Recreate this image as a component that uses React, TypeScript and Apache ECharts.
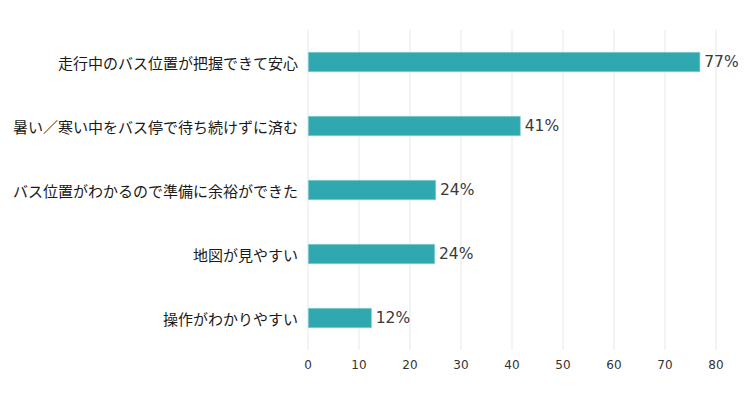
import React, { useEffect, useRef } from "react";
import * as echarts from "echarts";

const categories = [
  "走行中のバス位置が把握できて安心",
  "暑い／寒い中をバス停で待ち続けずに済む",
  "バス位置がわかるので準備に余裕ができた",
  "地図が見やすい",
  "操作がわかりやすい",
];
const values = [76.9, 41.7, 25.1, 24.9, 12.5];
const valueLabels = ["77%", "41%", "24%", "24%", "12%"];

const FONT = "'Noto Sans CJK JP', 'Noto Sans', sans-serif";
const NUM_FONT = "'DejaVu Sans', sans-serif";

export default function App() {
  const ref = useRef<HTMLDivElement>(null);
  useEffect(() => {
    document.body.style.margin = "0";
    if (!ref.current) return;
    const chart = echarts.init(ref.current, undefined, { renderer: "svg" });
    chart.setOption({
      animation: false,
      backgroundColor: "#ffffff",
      textStyle: { fontFamily: FONT },
      grid: { left: 308, right: 35, top: 30, bottom: 51, containLabel: false },
      xAxis: {
        type: "value",
        min: 0,
        max: 80,
        interval: 10,
        axisLine: { show: false },
        axisTick: { show: false },
        splitLine: { show: true, lineStyle: { color: "#f3f3f3", width: 2 } },
        axisLabel: { color: "#333", fontSize: 12, margin: 9, fontFamily: NUM_FONT },
      },
      yAxis: {
        type: "category",
        inverse: true,
        data: categories,
        axisLine: { show: false },
        axisTick: { show: false },
        splitLine: { show: false },
        axisLabel: { color: "#1a1a1a", fontSize: 15, margin: 10, fontFamily: FONT },
      },
      series: [
        {
          type: "bar",
          data: values,
          barWidth: 20,
          itemStyle: { color: "#2fa8b0", borderColor: "#8fd0d4", borderWidth: 0.6 },
          label: {
            show: true,
            position: "right",
            distance: 4,
            color: "#3a3a3a",
            fontSize: 15.5,
            fontFamily: NUM_FONT,
            formatter: (p: any) => valueLabels[p.dataIndex],
          },
        },
      ],
    });
    return () => chart.dispose();
  }, []);
  return <div ref={ref} style={{ width: 751, height: 401 }} />;
}
